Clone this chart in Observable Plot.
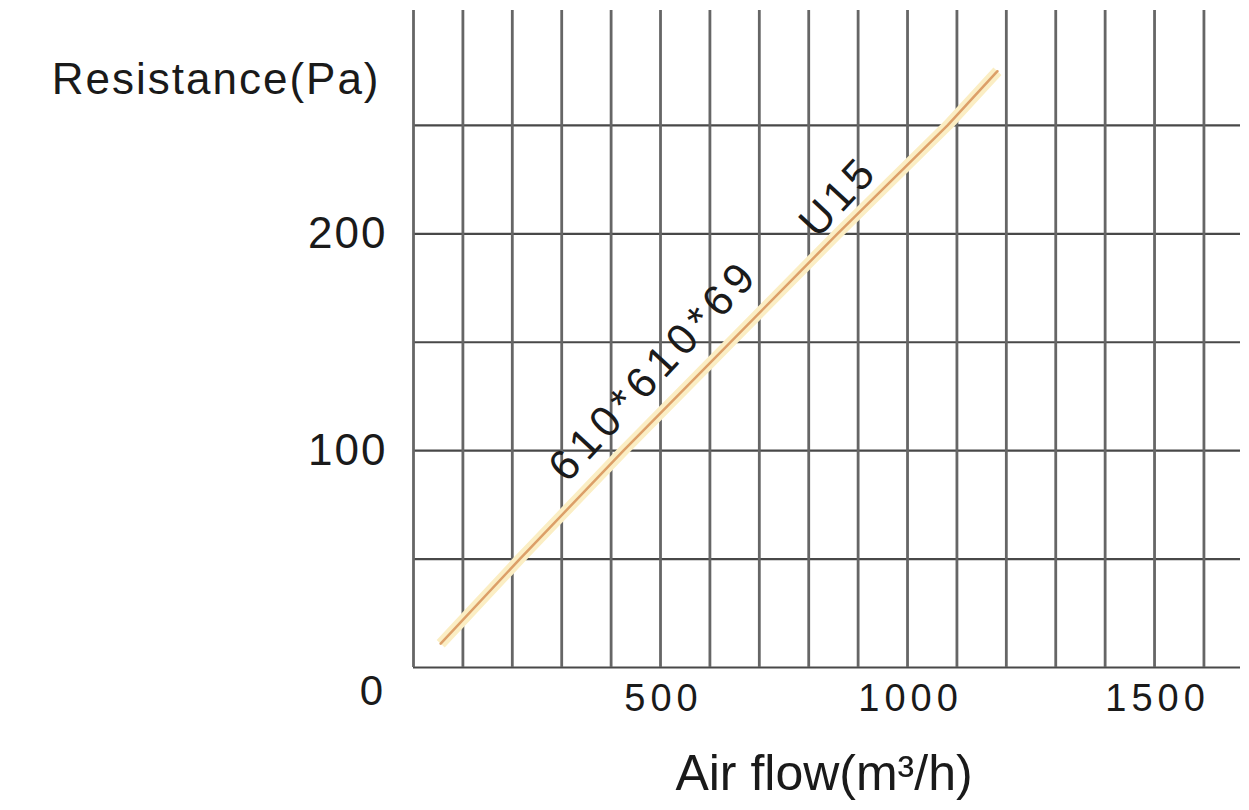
<!DOCTYPE html>
<html>
<head>
<meta charset="utf-8">
<script src="https://cdn.jsdelivr.net/npm/d3@7"></script>
<script src="https://cdn.jsdelivr.net/npm/@observablehq/plot@0.6"></script>
<style>
  html, body { margin: 0; padding: 0; background: #fff; }
  #chart svg { display: block; font-family: "Liberation Sans", Arial, sans-serif; }
</style>
</head>
<body>
<div id="chart"></div>
<script>
// ---- data ----
const airflow = [55, 215, 425, 858, 1081, 1182];      // m3/h
const resistance = [11, 50, 100, 200, 250, 275];      // Pa
const xGrid = [0, 100, 200, 300, 400, 500, 600, 700, 800, 900, 1000, 1100, 1200, 1300, 1400, 1500, 1600];
const yGrid = [0, 50, 100, 150, 200, 250];
const xTickLabels = [500, 1000, 1500];
const yTickLabels = [100, 200];
const originLabel = [0];
const lineLabels = ["610*610*69", "U15"];
const lineLabelX = [487, 860];
const lineLabelY = [137, 217];
const xTitle = "Air flow(m\u00B3/h)";
const yTitle = "Resistance(Pa)";
const xMax = 1674, yMax = 303;

const curve = airflow.map((x, i) => ({x, y: resistance[i]}));
const labels = lineLabels.map((t, i) => ({t, x: lineLabelX[i], y: lineLabelY[i]}));

const chart = Plot.plot({
  width: 1249,
  height: 810,
  marginLeft: 413,
  marginRight: 9,
  marginTop: 10,
  marginBottom: 143,
  x: {domain: [0, xMax], axis: null},
  y: {domain: [0, yMax], axis: null},
  marks: [
    Plot.ruleY(yGrid, {x1: 0, x2: xMax, stroke: "#484848", strokeWidth: 2.2}),
    Plot.ruleX(xGrid, {y1: 0, y2: yMax, stroke: "#666", strokeWidth: 2.8}),
    Plot.line(curve, {x: "x", y: "y", stroke: "#fbeec4", strokeWidth: 11, strokeLinecap: "butt"}),
    Plot.line(curve, {x: "x", y: "y", stroke: "#dc9f68", strokeWidth: 2.5}),
    Plot.text(labels, {x: "x", y: "y", text: "t", rotate: -47, fontSize: 43, fill: "#1a1a1a", ariaLabel: "linelabels"}),
    Plot.text(yTickLabels, {x: () => 0, y: d => d, text: d => String(d), textAnchor: "end", dx: -26, fontSize: 44, fill: "#1a1a1a", ariaLabel: "yticks"}),
    Plot.text(originLabel, {x: () => 0, y: d => d, text: d => String(d), dx: -42, dy: 24, fontSize: 42, fill: "#1a1a1a", ariaLabel: "origin"}),
    Plot.text(xTickLabels, {x: d => d, y: () => 0, text: d => String(d), dy: 31, dx: 3, fontSize: 38, fill: "#1a1a1a", ariaLabel: "xticks"}),
    Plot.text([xTitle], {frameAnchor: "bottom", text: d => d, dx: -3, dy: 122, fontSize: 50, fill: "#1a1a1a", ariaLabel: "xtitle"}),
    Plot.text([yTitle], {frameAnchor: "top-left", text: d => d, textAnchor: "end", dx: -33, dy: 52, fontSize: 44, fill: "#1a1a1a", ariaLabel: "ytitle"})
  ]
});
document.getElementById("chart").appendChild(chart);
const spacing = {"500": 5, "1000": 5, "1500": 5, "100": 2, "200": 2, "610*610*69": 6, "U15": 4, "Resistance(Pa)": 2};
d3.select(chart).selectAll("text").each(function() {
  const s = spacing[this.textContent];
  if (s != null) this.setAttribute("letter-spacing", s);
});
</script>
</body>
</html>
